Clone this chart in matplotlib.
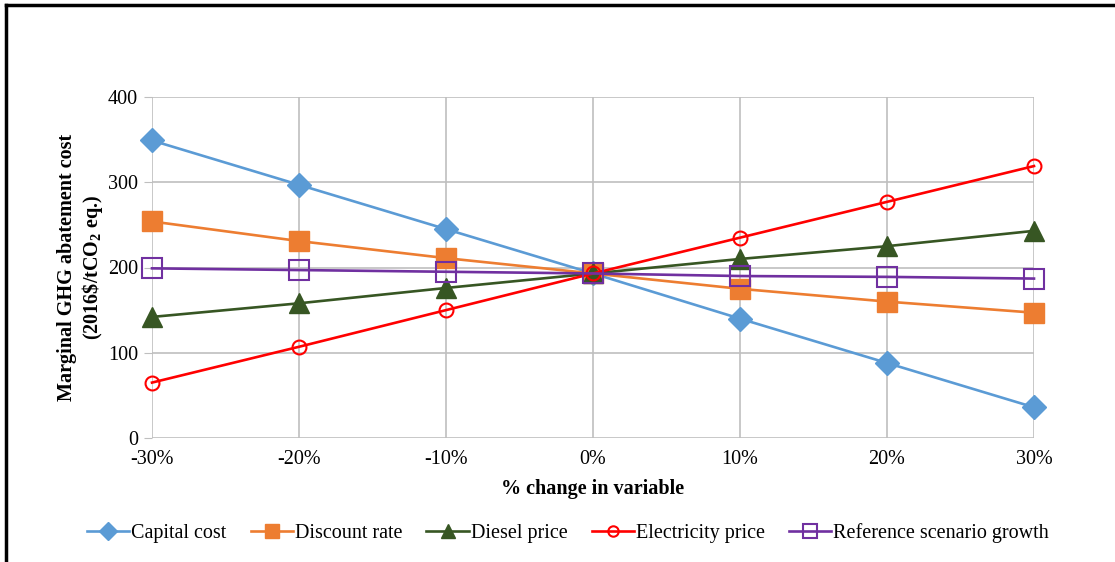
import matplotlib
matplotlib.use("Agg")
import matplotlib.pyplot as plt
from matplotlib.lines import Line2D

plt.rcParams['font.family'] = ['Liberation Serif', 'DejaVu Serif']
plt.rcParams['mathtext.fontset'] = 'custom'
plt.rcParams['mathtext.rm'] = 'Liberation Serif'
plt.rcParams['mathtext.bf'] = 'Liberation Serif:bold'

# % change in each input variable
changes = [-30, -20, -10, 0, 10, 20, 30]
tick_labels = ['-30%', '-20%', '-10%', '0%', '10%', '20%', '30%']

# Marginal GHG abatement cost (2016$/tCO2 eq.) per sensitivity case
capital_cost = [349, 297, 245, 193, 140, 88, 36]
discount_rate = [254, 231, 211, 193, 175, 160, 147]
diesel_price = [142, 158, 176, 193, 210, 225, 243]
electricity_price = [65, 107, 150, 193, 235, 277, 319]
reference_growth = [199, 197, 195, 193, 190, 189, 187]

series = [
    ("Capital cost", capital_cost, dict(color='#5B9BD5', marker='D', ms=12, mfc='#5B9BD5', mec='#5B9BD5')),
    ("Discount rate", discount_rate, dict(color='#ED7D31', marker='s', ms=14, mfc='#ED7D31', mec='#ED7D31')),
    ("Diesel price", diesel_price, dict(color='#375623', marker='^', ms=14, mfc='#375623', mec='#375623')),
    ("Electricity price", electricity_price, dict(color='#FF0000', marker='o', ms=10, mfc='none', mec='#FF0000', mew=1.5)),
    ("Reference scenario growth", reference_growth, dict(color='#7030A0', marker='s', ms=14, mfc='none', mec='#7030A0', mew=1.5)),
]

FS = 14.5

fig = plt.figure(figsize=(11.15, 5.62), dpi=100)
ax = fig.add_axes([152 / 1115, 1 - 438 / 562, (1034 - 152) / 1115, (438 - 97) / 562])

for name, vals, style in series:
    ax.plot(changes, vals, lw=1.9, label=name, clip_on=False, **style)

ax.set_xlim(-30, 30)
ax.set_ylim(0, 400)
ax.set_xticks(changes)
ax.set_xticklabels(tick_labels)
ax.set_yticks([0, 100, 200, 300, 400])
ax.grid(True, color='#BFBFBF', lw=1.2)
ax.set_axisbelow(True)
for sp in ax.spines.values():
    sp.set_visible(False)
ax.tick_params(axis='x', length=0, pad=9, labelsize=FS)
ax.tick_params(axis='y', length=6, color='#BFBFBF', pad=4, labelsize=FS)

ax.set_xlabel('% change in variable', fontsize=FS, fontweight='bold', labelpad=7)
ax.set_ylabel('Marginal GHG abatement cost\n(2016\\$/tCO$_\\mathbf{2}$ eq.)',
              fontsize=FS, fontweight='bold', labelpad=2, linespacing=1.2)

ax.legend(loc='center', bbox_to_anchor=(568 / 1115, 1 - 533 / 562),
          bbox_transform=fig.transFigure, ncol=5, frameon=False, fontsize=FS,
          handlelength=2.1, handletextpad=0.1, columnspacing=1.2, borderpad=0,
          markerscale=0.75)

# black page frame along the top and left edges
fig.add_artist(Line2D([6 / 1115, 6 / 1115], [0, 1 - 5 / 562], color='black', lw=2.5,
                      transform=fig.transFigure))
fig.add_artist(Line2D([6 / 1115, 1], [1 - 5 / 562, 1 - 5 / 562], color='black', lw=2.5,
                      transform=fig.transFigure))

fig.savefig('out.png', dpi=100)
